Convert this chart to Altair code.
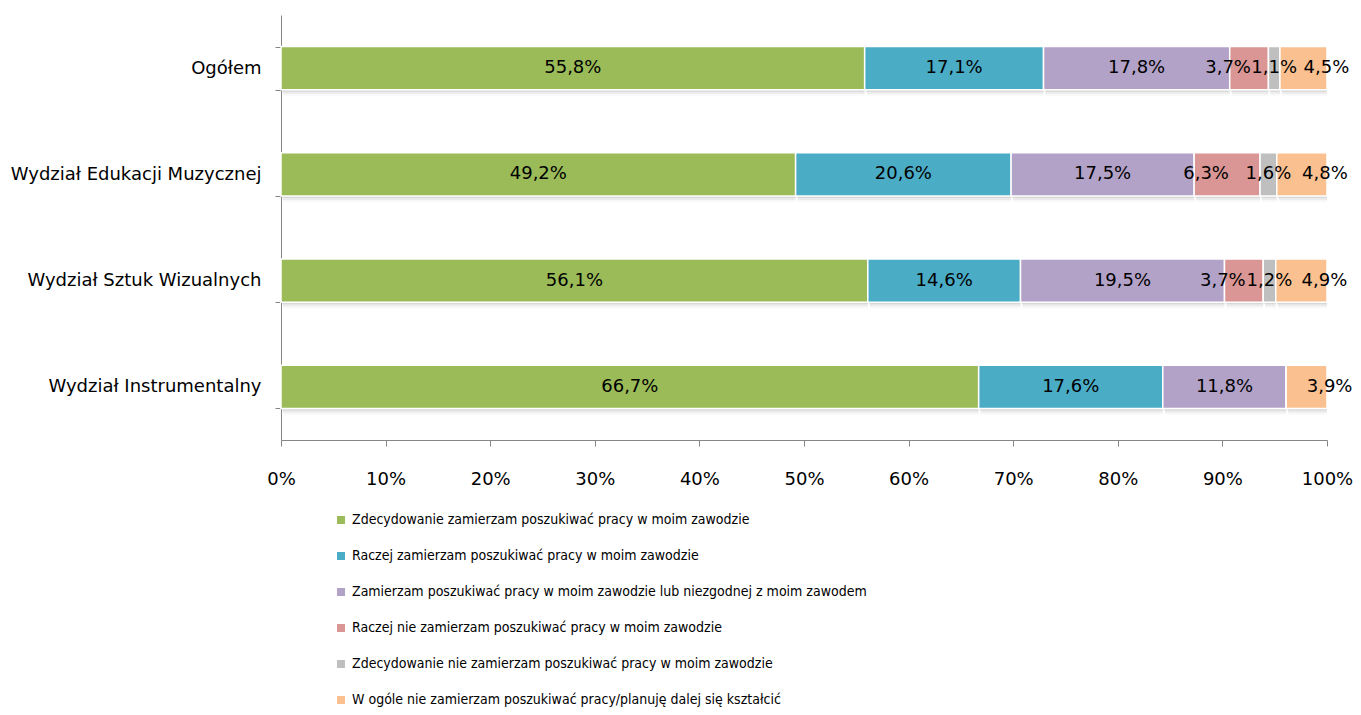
import altair as alt
import pandas as pd

groups = ["Ogółem", "Wydział Edukacji Muzycznej", "Wydział Sztuk Wizualnych", "Wydział Instrumentalny"]
categories = [
    "Zdecydowanie zamierzam poszukiwać pracy w moim zawodzie",
    "Raczej zamierzam poszukiwać pracy w moim zawodzie",
    "Zamierzam poszukiwać pracy w moim zawodzie lub niezgodnej z moim zawodem",
    "Raczej nie zamierzam poszukiwać pracy w moim zawodzie",
    "Zdecydowanie nie zamierzam poszukiwać pracy w moim zawodzie",
    "W ogóle nie zamierzam poszukiwać pracy/planuję dalej się kształcić",
]
colors = ["#9BBB59", "#4BACC6", "#B3A2C7", "#D99694", "#BFBFBF", "#FAC090"]

ogolem = [55.8, 17.1, 17.8, 3.7, 1.1, 4.5]
edukacji = [49.2, 20.6, 17.5, 6.3, 1.6, 4.8]
sztuk = [56.1, 14.6, 19.5, 3.7, 1.2, 4.9]
instrumentalny = [66.7, 17.6, 11.8, 0.0, 0.0, 3.9]
x_ticks = [0, 10, 20, 30, 40, 50, 60, 70, 80, 90, 100]

rows = []
for g, vals in zip(groups, [ogolem, edukacji, sztuk, instrumentalny]):
    for i, (c, v) in enumerate(zip(categories, vals)):
        rows.append({"group": g, "category": c, "order": i, "value": v})
df = pd.DataFrame(rows)

FONT = "DejaVu Sans"
LEG_FONT = "DejaVu Sans Condensed, Roboto Condensed, Liberation Sans Narrow, Roboto"

base = alt.Chart(df).transform_stack(
    stack="value", groupby=["group"], as_=["v0", "v1"], sort=[alt.SortField("order", "ascending")]
).transform_calculate(
    mid="(datum.v0 + datum.v1) / 2",
    label="replace(format(datum.value, '.1f'), '.', ',') + '%'",
)

y_enc = alt.Y(
    "group:N",
    sort=groups,
    title=None,
    scale=alt.Scale(paddingInner=0.595, paddingOuter=0.2975),
    axis=alt.Axis(
        tickBand="extent", labelFont=FONT, labelFontSize=18, labelColor="#000000",
        labelPadding=14, tickSize=6, tickColor="#868686", domainColor="#868686",
        labelLimit=400,
    ),
)

x_enc = alt.X(
    "v0:Q",
    scale=alt.Scale(domain=[0, 100], nice=False),
    title=None,
    axis=alt.Axis(
        values=x_ticks, labelExpr="datum.value + '%'", labelFont=FONT,
        labelFontSize=18, labelColor="#000000", labelPadding=24, tickSize=6,
        tickColor="#868686", domainColor="#868686", grid=False, labelFlush=False,
    ),
)


def shadow_layer(dx, dy, opacity):
    return base.transform_filter("datum.value > 0").mark_bar(
        color="#7f7f7f", opacity=opacity, xOffset=dx, yOffset=dy
    ).encode(y=y_enc, x=x_enc, x2="v1:Q")


shadows = [shadow_layer(1, 2, 0.18), shadow_layer(2, 4, 0.1), shadow_layer(2, 6, 0.05)]

bars = base.mark_bar(stroke="white", strokeWidth=1.5).encode(
    y=y_enc,
    x=x_enc,
    x2="v1:Q",
    color=alt.Color(
        "category:N",
        scale=alt.Scale(domain=categories, range=colors),
        sort=categories,
        legend=alt.Legend(
            title=None, orient="none", legendX=53, legendY=498, direction="vertical",
            symbolType="square", symbolSize=64, symbolStrokeWidth=0,
            labelFont=LEG_FONT, labelFontSize=14, labelColor="#000000",
            rowPadding=22, labelLimit=900, labelOffset=4,
        ),
    ),
)


def text_layer(orders, dx):
    return base.transform_filter(
        alt.FieldOneOfPredicate(field="order", oneOf=orders)
    ).transform_filter("datum.value > 0").mark_text(
        font=FONT, fontSize=18, color="#000000", dx=dx
    ).encode(
        y=alt.Y("group:N", sort=groups),
        x=alt.X("mid:Q"),
        text="label:N",
    )


texts_main = text_layer([0, 1, 2, 4], 0)
texts_red = text_layer([3], -21)
texts_orange = text_layer([5], 23)

chart = alt.layer(*shadows, bars, texts_main, texts_red, texts_orange).properties(
    width=1046,
    height=425,
    autosize=alt.AutoSizeParams(type="none"),
    padding={"left": 273, "top": 7, "right": 26, "bottom": 267},
).configure_view(stroke=None)

chart.save("out.html", embed_options={"renderer": "svg", "actions": False})
